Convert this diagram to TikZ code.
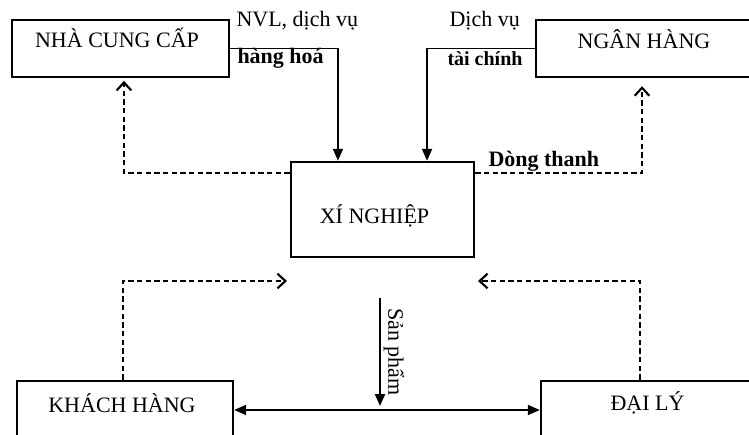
\documentclass[tikz,border=0pt]{standalone}
\usepackage{fontspec}
\setmainfont{Liberation Serif}
\usetikzlibrary{arrows.meta}

\tikzset{every picture/.style={line width=0.75pt}}
\tikzset{
  unitbox/.style={draw, line width=1.8pt, minimum width=#1*0.75pt, inner sep=0pt},
  flow/.style={line width=1.4pt, -{Triangle[length=9pt,width=7.5pt]}},
  cash/.style={line width=1.4pt, dash pattern=on 4pt off 2.5pt, -{Straight Barb[length=6pt,width=11pt,line width=1.6pt]}},
  txt/.style={font=\fontsize{16.5}{19}\selectfont, inner sep=0pt},
  boldtxt/.style={font=\fontsize{16.5}{19}\selectfont\bfseries, inner sep=0pt}
}

\begin{document}
\begin{tikzpicture}[x=0.75pt,y=0.75pt,yscale=-1,xscale=1]
\useasboundingbox (0,0) rectangle (749,435);
\clip (0,0) rectangle (749,435);

%Shape: Rectangle [id:ncc] 
\node (ncc) at (120.5,48.5) [unitbox=217, minimum height=42.75pt] {};
%Shape: Rectangle [id:nh] 
\node (nh) at (649,48.5) [unitbox=226, minimum height=42.75pt] {};
%Shape: Rectangle [id:xn] 
\node (xn) at (382.5,209.5) [unitbox=183, minimum height=71.25pt] {};
%Shape: Rectangle [id:kh] 
\node (kh) at (125,415.5) [unitbox=216, minimum height=51.75pt] {};
%Shape: Rectangle [id:dl] 
\node (dl) at (651.5,415.5) [unitbox=221, minimum height=51.75pt] {};

\coordinate (khTip) at (287,281);
\coordinate (dlTip) at (478,281);
\coordinate (spTop) at (380,298);
\coordinate (bus) at (380,410);

%Straight Lines [id:hang] 
\draw [flow] (ncc.east) -| ([xshift=-33.4pt]xn.north);
%Straight Lines [id:taichinh] 
\draw [flow] (nh.west) -| ([xshift=33.4pt]xn.north);

%Straight Lines [id:tra1] 
\draw [cash, shorten >=2pt] ([yshift=-27.4pt]xn.west) -| ([xshift=2.6pt]ncc.south);
%Straight Lines [id:tra2] 
\draw [cash, shorten >=6pt] ([yshift=-27.4pt]xn.east) -| ([xshift=-5.25pt]nh.south);

%Straight Lines [id:khach] 
\draw [cash] ([xshift=-1.5pt]kh.north) |- (khTip);
%Straight Lines [id:daily] 
\draw [cash] ([xshift=-8.6pt]dl.north) |- (dlTip);

%Straight Lines [id:sanpham] 
\draw [flow, shorten >=3pt] (spTop) -- (spTop |- bus);
%Straight Lines [id:bus] 
\draw [line width=1.4pt, {Triangle[length=9pt,width=7.5pt]}-{Triangle[length=9pt,width=7.5pt]}] (kh.east |- bus) -- (dl.west |- bus);

% Text Node
\node (nccT) at (117,48) [txt, anchor=base] {NHÀ CUNG CẤP};
% Text Node
\node (nhT) at (644,49) [txt, anchor=base] {NGÂN HÀNG};
% Text Node
\node (xnT) at (374.5,223) [txt, anchor=base] {XÍ NGHIỆP};
% Text Node
\node (khT) at (122,412) [txt, anchor=base] {KHÁCH HÀNG};
% Text Node
\node (dlT) at (647.5,410) [txt, anchor=base] {ĐẠI LÝ};
% Text Node
\node (nvl) at (236,27) [txt, anchor=base west] {NVL, dịch vụ};
% Text Node
\node (hh) at (237,64) [boldtxt, anchor=base west] {hàng hoá};
% Text Node
\node (dv) at (449,27) [txt, anchor=base west] {Dịch vụ};
% Text Node
\node (tc) at (447,65) [boldtxt, font=\fontsize{15}{18}\selectfont\bfseries, anchor=base west] {tài chính};
% Text Node
\node (dt) at (488,166) [boldtxt, anchor=base west] {Dòng thanh};
% Text Node
\node (sp) at (394,352) [txt, rotate=-90] {Sản phẩm};

\end{tikzpicture}
\end{document}
